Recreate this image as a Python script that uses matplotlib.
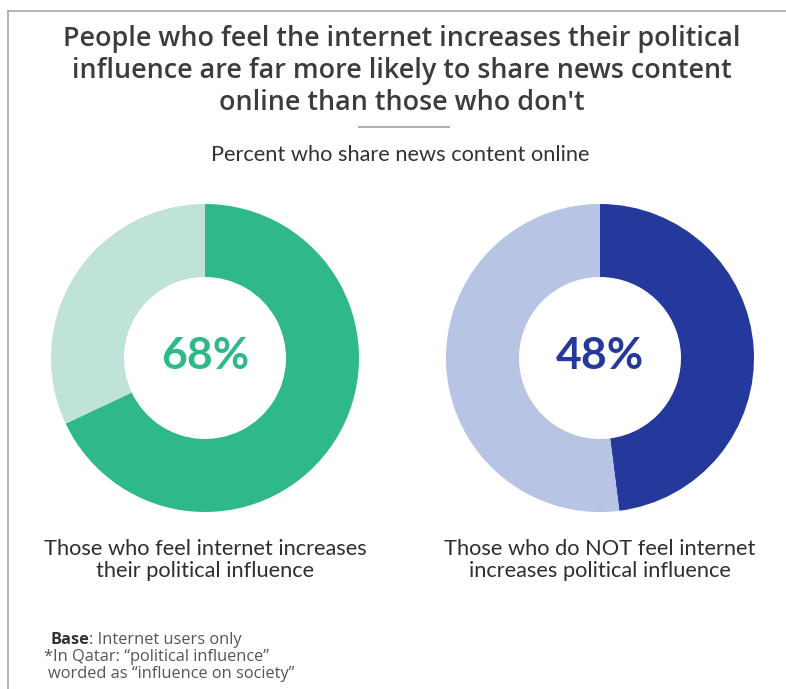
import matplotlib.pyplot as plt

W, H = 786, 689

groups = ["Those who feel internet increases\ntheir political influence",
          "Those who do NOT feel internet\nincreases political influence"]
share_pct = [68, 48]
main_colors = ["#2fb98a", "#24399b"]
rest_colors = ["#bfe3d8", "#b7c4e4"]

title = ("People who feel the internet increases their political\n"
         "influence are far more likely to share news content\n"
         "online than those who don't")
subtitle = "Percent who share news content online"

plt.rcParams['font.family'] = ['Lato', 'DejaVu Sans']
wide = ['Open Sans', 'DejaVu Sans']

fig = plt.figure(figsize=(W / 100, H / 100), dpi=100)
ax = fig.add_axes([0, 0, 1, 1])

# pixel-like coordinates, y measured from the bottom
def py(y):
    return H - y

centers = [(205, py(358)), (600, py(358))]
r_out, r_in = 154, 81

for (cx, cy), pct, c1, c2, lab in zip(centers, share_pct, main_colors, rest_colors, groups):
    ax.pie([pct, 100 - pct], colors=[c1, c2], startangle=90, counterclock=False,
           center=(cx, cy), radius=r_out,
           wedgeprops=dict(width=r_out - r_in, linewidth=0))
    ax.text(cx, cy + 2, f"{pct}%", ha="center", va="center", fontsize=32,
            fontweight="bold", color=c1)
    ax.text(cx, py(560), lab, ha="center", va="center", fontsize=15.7,
            color="#2e2e2e", linespacing=1.1)

ax.set_xlim(0, W)
ax.set_ylim(0, H)
ax.set_aspect("auto")
ax.axis("off")

# frame lines
ax.plot([8, W], [py(11), py(11)], color="#a8a8a8", lw=1.2)
ax.plot([8, 8], [py(11), 0], color="#a8a8a8", lw=1.2)

ax.text(402, py(71), title, ha="center", va="center", fontsize=19.4,
        fontweight="semibold", family=wide, color="#3c3c3c", linespacing=1.2)
ax.plot([359, 449], [py(127), py(127)], color="#b8b0a8", lw=1.5)
ax.text(400, py(155), subtitle, ha="center", va="center", fontsize=15.7,
        color="#333333")

base = ax.text(50, py(640), "Base", ha="left", va="center", fontsize=11.8,
               fontweight="bold", family=wide, color="#333333")
ax.annotate(": Internet users only", xy=(1, 0.5), xycoords=base,
            ha="left", va="center", fontsize=11.8, family=wide, color="#555555")
ax.text(44, py(657), "*In Qatar: \u201cpolitical influence\u201d", ha="left",
        va="center", fontsize=11.8, family=wide, color="#555555")
ax.text(48, py(674), "worded as \u201cinfluence on society\u201d", ha="left",
        va="center", fontsize=11.8, family=wide, color="#555555")

fig.savefig("out.png", dpi=100)
